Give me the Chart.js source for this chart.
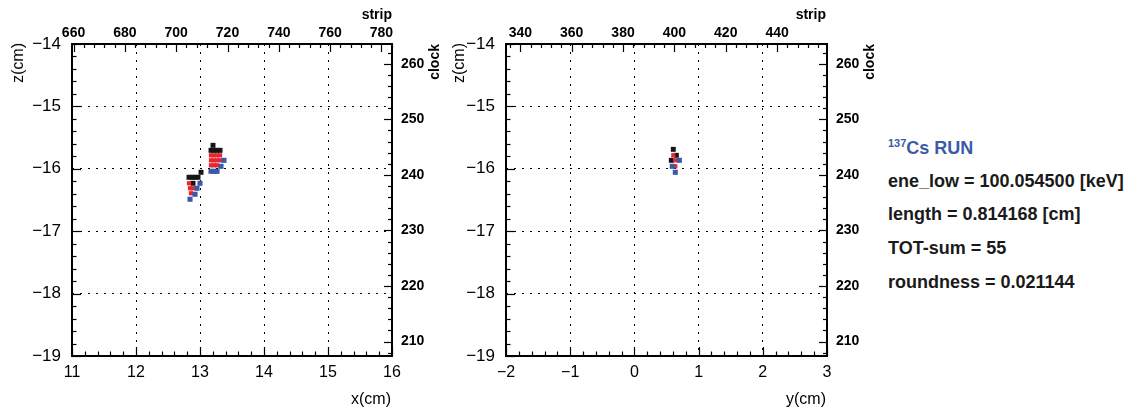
<!DOCTYPE html>
<html>
<head>
<meta charset="utf-8">
<script src="https://cdn.jsdelivr.net/npm/chart.js@4/dist/chart.umd.min.js"></script>
<style>
html,body{margin:0;padding:0;background:#fff;}
#wrap{position:relative;width:1129px;height:410px;overflow:hidden;font-family:"Liberation Sans",Arial,sans-serif;color:#000;}
.pane{position:absolute;top:0;width:440px;height:410px;}
.t{position:absolute;white-space:nowrap;line-height:1;}
.vt{writing-mode:vertical-rl;transform:rotate(180deg);}
.ra{transform:translateX(-100%);}
.b14{font-weight:bold;font-size:14px;}
.n16{font-size:16px;}
.info{position:absolute;left:888px;font-weight:bold;font-size:18px;line-height:18px;color:#1a1a1a;white-space:nowrap;}
.info sup{font-size:11px;vertical-align:7px;line-height:0;}
</style>
</head>
<body>
<div id="wrap">
  <div class="pane" style="left:0"><canvas id="cL"></canvas></div>
  <div class="pane" style="left:440px"><canvas id="cR"></canvas></div>

  <div class="t vt n16" style="left:10px;top:43px;">z(cm)</div>
  <div class="t ra n16" style="left:391px;top:391px;">x(cm)</div>
  <div class="t ra b14" style="left:392px;top:7px;">strip</div>
  <div class="t vt b14" style="left:427px;top:44px;">clock</div>

  <div class="t vt n16" style="left:451px;top:43px;">z(cm)</div>
  <div class="t ra n16" style="left:826px;top:391px;">y(cm)</div>
  <div class="t ra b14" style="left:826px;top:7px;">strip</div>
  <div class="t vt b14" style="left:862px;top:44px;">clock</div>

  <div class="info" style="top:139px;color:#3c5aa8;"><sup>137</sup>Cs RUN</div>
  <div class="info" style="top:172px;">ene_low = 100.054500 [keV]</div>
  <div class="info" style="top:205px;">length = 0.814168 [cm]</div>
  <div class="info" style="top:239px;">TOT-sum = 55</div>
  <div class="info" style="top:273px;">roundness = 0.021144</div>
</div>
<script>
// ---------- data (cm) ----------
const leftBlackX = [13.203, 13.172, 13.219, 13.266, 13.313, 13.016, 12.828, 12.875, 12.922, 12.969, 12.891];
const leftBlackZ = [-15.624, -15.704, -15.704, -15.704, -15.704, -16.056, -16.136, -16.136, -16.136, -16.136, -16.232];
const leftRedX = [13.172, 13.219, 13.266, 13.313, 13.172, 13.219, 13.266, 13.313, 13.172, 13.219, 13.266, 12.828, 12.844, 12.891, 12.859];
const leftRedZ = [-15.784, -15.784, -15.784, -15.784, -15.864, -15.864, -15.864, -15.864, -15.944, -15.944, -15.944, -16.232, -16.312, -16.312, -16.392];
const leftBlueX = [13.375, 13.328, 13.172, 13.219, 13.266, 13.000, 12.953, 12.922, 12.844];
const leftBlueZ = [-15.864, -15.960, -16.040, -16.040, -16.040, -16.232, -16.312, -16.408, -16.488];

const rightBlackY = [0.606, 0.653, 0.575];
const rightBlackZ = [-15.688, -15.784, -15.864];
const rightRedY = [0.606, 0.637, 0.637];
const rightRedZ = [-15.784, -15.864, -15.960];
const rightBlueY = [0.700, 0.590, 0.637];
const rightBlueZ = [-15.864, -15.960, -16.056];

// ---------- axes ----------
const xTicks = [11, 12, 13, 14, 15, 16];
const yTicks = [-2, -1, 0, 1, 2, 3];
const zTicks = [-19, -18, -17, -16, -15, -14];
const stripTicksLeft = [660, 680, 700, 720, 740, 760, 780];
const stripTicksRight = [340, 360, 380, 400, 420, 440];
const clockTicks = [210, 220, 230, 240, 250, 260];
const stripRangeLeft = [659.4, 784.1];
const stripRangeRight = [334.4, 459.45];
const clockRange = [207.4, 263.55];

const COL_BLACK = '#151515', COL_RED = '#e8262d', COL_BLUE = '#3b59aa';
const FAM = '"Liberation Sans", Arial, sans-serif';
const fmt = v => (v < 0 ? '\u2212' : '') + Math.abs(v);
const pts = (xs, ys) => xs.map((x, i) => ({x: x, y: ys[i]}));

function ds(label, data, color, r) {
  return {label, data, backgroundColor: color, borderWidth: 0,
          pointStyle: 'rect', pointRadius: r, pointHoverRadius: r};
}

const rootFrame = {
  id: 'rootFrame',
  afterDraw(chart, args, o) {
    const {ctx, chartArea: a, scales} = chart;
    ctx.save();
    ctx.strokeStyle = '#000';
    ctx.lineWidth = 1.2;
    function ticks(scale, step, major, majLen, minLen, side) {
      const lo = Math.min(scale.min, scale.max), hi = Math.max(scale.min, scale.max);
      const start = Math.ceil(lo / step - 1e-9) * step;
      for (let v = start; v <= hi + 1e-9; v += step) {
        const r = v / major;
        const isMaj = Math.abs(r - Math.round(r)) < 1e-6;
        const len = isMaj ? majLen : minLen;
        const p = Math.round(scale.getPixelForValue(v)) + 0.5;
        ctx.beginPath();
        if (side === 'bottom') { ctx.moveTo(p, a.bottom); ctx.lineTo(p, a.bottom - len); }
        if (side === 'top') { ctx.moveTo(p, a.top); ctx.lineTo(p, a.top + len); }
        if (side === 'left') { ctx.moveTo(a.left, p); ctx.lineTo(a.left + len, p); }
        if (side === 'right') { ctx.moveTo(a.right, p); ctx.lineTo(a.right - len, p); }
        ctx.stroke();
      }
    }
    ticks(scales.x, 0.2, 1, 9, 4.5, 'bottom');
    ticks(scales.y, 0.2, 1, 9, 4.5, 'left');
    ticks(scales.x2, 4, 20, 8, 4, 'top');
    ticks(scales.y2, 2, 10, 8, 4, 'right');
    ctx.lineWidth = 2;
    ctx.strokeRect(a.left, a.top, a.right - a.left, a.bottom - a.top);
    ctx.restore();
  }
};

function setTicks(arr) { return s => { s.ticks = arr.map(v => ({value: v})); }; }

function makeChart(id, o) {
  return new Chart(document.getElementById(id), {
    type: 'scatter',
    data: {datasets: [
      ds('blue', o.blue, COL_BLUE, 3.6),
      ds('red', o.red, COL_RED, 3.0),
      ds('black', o.black, COL_BLACK, 3.5)
    ]},
    options: {
      responsive: true, maintainAspectRatio: false, animation: false,
      layout: {padding: 0},
      plugins: {legend: {display: false}, tooltip: {enabled: false}},
      events: [],
      scales: {
        x: {type: 'linear', position: 'bottom', min: o.xr[0], max: o.xr[1],
            afterBuildTicks: setTicks(o.xt), afterFit: s => { s.height = 54; },
            grid: {drawTicks: false, color: '#000', lineWidth: 1},
            border: {display: false, dash: [2, 6]},
            ticks: {padding: 9, color: '#000', autoSkip: false, maxRotation: 0,
                    font: {family: FAM, size: 16, lineHeight: 1}, callback: fmt}},
        x2: {type: 'linear', axis: 'x', position: 'top', min: o.sr[0], max: o.sr[1],
            afterBuildTicks: setTicks(o.st), afterFit: s => { s.height = 44; },
            grid: {display: false, drawTicks: false}, border: {display: false},
            ticks: {padding: 4, color: '#000', autoSkip: false, maxRotation: 0,
                    font: {family: FAM, size: 14, weight: 'bold', lineHeight: 1}}},
        y: {type: 'linear', position: 'left', min: -19, max: -14,
            afterBuildTicks: setTicks(zTicks), afterFit: s => { s.width = o.lw; },
            grid: {drawTicks: false, color: '#000', lineWidth: 1},
            border: {display: false, dash: [2, 6]},
            ticks: {padding: 11, color: '#000', autoSkip: false,
                    font: {family: FAM, size: 17, lineHeight: 1}, callback: fmt}},
        y2: {type: 'linear', axis: 'y', position: 'right', min: clockRange[0], max: clockRange[1],
            afterBuildTicks: setTicks(clockTicks), afterFit: s => { s.width = o.rw; },
            grid: {display: false, drawTicks: false}, border: {display: false},
            ticks: {padding: 9, color: '#000', autoSkip: false,
                    font: {family: FAM, size: 14, weight: 'bold', lineHeight: 1}}}
      }
    },
    plugins: [rootFrame]
  });
}

makeChart('cL', {
  black: pts(leftBlackX, leftBlackZ), red: pts(leftRedX, leftRedZ), blue: pts(leftBlueX, leftBlueZ),
  xr: [xTicks[0], xTicks[xTicks.length - 1]], xt: xTicks,
  sr: stripRangeLeft, st: stripTicksLeft, lw: 72, rw: 48
});
makeChart('cR', {
  black: pts(rightBlackY, rightBlackZ), red: pts(rightRedY, rightRedZ), blue: pts(rightBlueY, rightBlueZ),
  xr: [yTicks[0], yTicks[yTicks.length - 1]], xt: yTicks,
  sr: stripRangeRight, st: stripTicksRight, lw: 66, rw: 53
});
</script>
</body>
</html>
